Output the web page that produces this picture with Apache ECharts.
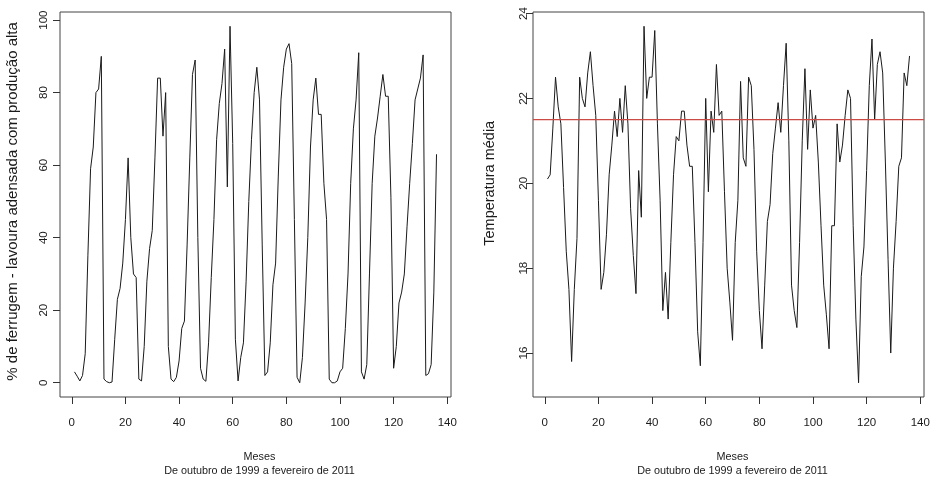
<!DOCTYPE html>
<html>
<head>
<meta charset="utf-8">
<script src="https://cdn.jsdelivr.net/npm/echarts@6/dist/echarts.min.js"></script>
<style>
  html, body { margin: 0; padding: 0; background: #fff; }
  #chart { width: 930px; height: 479px; }
</style>
</head>
<body>
<div id="chart"></div>
<script>
var chart = echarts.init(document.getElementById("chart"));

// % de ferrugem, outubro 1999 .. fevereiro 2011 (136 meses)
let ferrugem = [
  3, 1.8, 0.5, 2, 8, 35, 59, 65, 80, 81, 90, 1,
  0.3, 0, 0.2, 12, 23, 26, 33, 45, 62, 40, 30, 29,
  1, 0.5, 10, 28, 37, 42, 62, 84, 84, 68, 80, 10,
  1, 0.3, 1.5, 6, 15, 17, 38, 62, 85, 89, 40, 4,
  1, 0.4, 11, 29, 45, 67, 77, 82.5, 92, 54, 98.3, 66,
  12, 0.5, 7, 11, 28, 50, 67, 80, 87, 78, 38, 2,
  3, 11, 27, 33, 57, 78, 87, 92, 93.5, 88, 45, 1.5,
  0, 7, 22, 40, 65, 78, 84, 74, 74, 55, 45, 1,
  0, 0, 0.5, 3, 4, 15, 30, 55, 70, 78, 91, 3,
  1, 5, 30, 55, 68, 73, 79, 85, 79, 79, 51, 4,
  10, 22, 25, 30, 43, 55, 66, 78, 81, 84, 90.4, 2,
  2.5, 5, 25, 63
];

// temperatura media mensal
let temperatura = [
  20.1, 20.2, 21.3, 22.5, 21.8, 21.4, 19.9, 18.4, 17.5, 15.8, 17.5, 18.7,
  22.5, 22.0, 21.8, 22.6, 23.1, 22.3, 21.6, 19.6, 17.5, 17.9, 18.8, 20.2,
  20.9, 21.7, 21.1, 22.0, 21.2, 22.3, 21.4, 19.4, 18.3, 17.4, 20.3, 19.2,
  23.7, 22.0, 22.5, 22.5, 23.6, 21.4, 19.6, 17.0, 17.9, 16.8, 18.6, 20.2,
  21.1, 21.0, 21.7, 21.7, 20.9, 20.4, 20.4, 18.6, 16.5, 15.7, 18.6, 22.0,
  19.8, 21.7, 21.2, 22.8, 21.6, 21.7, 19.8, 18.0, 17.2, 16.3, 18.6, 19.6,
  22.4, 20.6, 20.4, 22.5, 22.3, 20.8, 18.4, 17.0, 16.1, 17.6, 19.1, 19.5,
  20.7, 21.3, 21.9, 21.2, 22.3, 23.3, 21.0, 17.6, 17.0, 16.6, 18.6, 21.0,
  22.7, 20.8, 22.2, 21.3, 21.6, 20.5, 19.0, 17.6, 16.9, 16.1, 19.0, 19.0,
  21.4, 20.5, 20.9, 21.6, 22.2, 22.0, 19.0, 16.8, 15.3, 17.8, 18.5, 20.3,
  22.3, 23.4, 21.5, 22.8, 23.1, 22.6, 20.5, 18.2, 16.0, 18.0, 19.1, 20.4,
  20.6, 22.6, 22.3, 23.0
];

let linhaRef = 21.5;

let xTicks = [0, 20, 40, 60, 80, 100, 120, 140];
let ferrugemTicks = [0, 20, 40, 60, 80, 100];
let tempTicks = [16, 18, 20, 22, 24];

let meses = ferrugem.map((v, i) => i + 1);

// R style range: data range extended 4% each side
function rRange(arr){
  var lo = Math.min.apply(null, arr), hi = Math.max.apply(null, arr);
  var d = (hi - lo) * 0.04;
  return [lo - d, hi + d];
}
var xr = rRange(meses);
var fr = rRange(ferrugem);
var tr = rRange(temperatura);

var font = "Liberation Sans, Arial, sans-serif";
var txt = "#1a1a1a";
var boxColor = "#444";
var tickColor = "#333";
var xTitle = "Meses\nDe outubro de 1999 a fevereiro de 2011";

var boxL = { left: 60, top: 12, width: 391, height: 385 };
var boxR = { left: 533, top: 12, width: 391, height: 385 };

// x ticks: grid spanning the tick range horizontally, box height vertically
function xTickGrid(box, rng, t){
  var s = box.width / (rng[1] - rng[0]);
  var l = box.left + (t[0] - rng[0]) * s;
  var r = box.left + (t[t.length - 1] - rng[0]) * s;
  return { left: l, width: r - l, top: box.top, height: box.height, outerBoundsMode: "none", show: false };
}
// y ticks: grid spanning the tick range vertically, box width horizontally
function yTickGrid(box, rng, t){
  var s = box.height / (rng[1] - rng[0]);
  var top = box.top + (rng[1] - t[t.length - 1]) * s;
  var bot = box.top + (rng[1] - t[0]) * s;
  return { left: box.left, width: box.width, top: top, height: bot - top, outerBoundsMode: "none", show: false };
}

function hiddenAxis(idx, rng){
  return { type: "value", gridIndex: idx, min: rng[0], max: rng[1], show: false, splitLine: { show: false } };
}

function tickX(idx){
  return {
    type: "value", gridIndex: idx,
    min: xTicks[0], max: xTicks[xTicks.length - 1], interval: 20,
    axisLine: { show: false },
    axisTick: { show: true, length: 7, lineStyle: { color: tickColor } },
    axisLabel: { color: txt, fontFamily: font, fontSize: 11.5, margin: 20 },
    splitLine: { show: false },
    name: xTitle, nameLocation: "middle", nameGap: 53,
    nameTextStyle: { color: txt, fontFamily: font, fontSize: 10.8, lineHeight: 14 }
  };
}

function tickY(idx, ticks, step, name, gap, margin, nameSize){
  return {
    type: "value", gridIndex: idx,
    min: ticks[0], max: ticks[ticks.length - 1], interval: step,
    axisLine: { show: false },
    axisTick: { show: true, length: 7, lineStyle: { color: tickColor } },
    axisLabel: { rotate: 90, color: txt, fontFamily: font, fontSize: 11.5, margin: margin },
    splitLine: { show: false },
    name: name, nameLocation: "middle", nameGap: gap,
    nameTextStyle: { color: txt, fontFamily: font, fontSize: nameSize }
  };
}

var boxStyle = { show: true, borderColor: boxColor, borderWidth: 1, backgroundColor: "transparent", outerBoundsMode: "none" };

chart.setOption({
  animation: false,
  backgroundColor: "#fff",
  grid: [
    Object.assign({}, boxStyle, boxL),          // 0 dados ferrugem
    Object.assign({}, boxStyle, boxR),          // 1 dados temperatura
    xTickGrid(boxL, xr, xTicks),                // 2
    yTickGrid(boxL, fr, ferrugemTicks),         // 3
    xTickGrid(boxR, xr, xTicks),                // 4
    yTickGrid(boxR, tr, tempTicks)              // 5
  ],
  xAxis: [
    hiddenAxis(0, xr),
    hiddenAxis(1, xr),
    tickX(2),
    hiddenAxis(3, [0, 1]),
    tickX(4),
    hiddenAxis(5, [0, 1])
  ],
  yAxis: [
    hiddenAxis(0, fr),
    hiddenAxis(1, tr),
    hiddenAxis(2, [0, 1]),
    tickY(3, ferrugemTicks, 20, "% de ferrugem - lavoura adensada com produção alta", 40, 10, 15),
    hiddenAxis(4, [0, 1]),
    tickY(5, tempTicks, 2, "Temperatura média", 36, 3.5, 14.5)
  ],
  series: [
    {
      type: "line",
      xAxisIndex: 0, yAxisIndex: 0,
      data: meses.map((m, i) => [m, ferrugem[i]]),
      showSymbol: false,
      lineStyle: { color: "#1a1a1a", width: 1 }
    },
    {
      type: "line",
      xAxisIndex: 1, yAxisIndex: 1,
      data: meses.map((m, i) => [m, temperatura[i]]),
      showSymbol: false,
      lineStyle: { color: "#1a1a1a", width: 1 }
    },
    {
      // abline(h = 21.5) across the whole plot region
      type: "line",
      xAxisIndex: 1, yAxisIndex: 1,
      data: [[xr[0], linhaRef], [xr[1], linhaRef]],
      showSymbol: false,
      silent: true,
      z: 3,
      lineStyle: { color: "#cc4a44", width: 1.2 }
    }
  ]
});
</script>
</body>
</html>
